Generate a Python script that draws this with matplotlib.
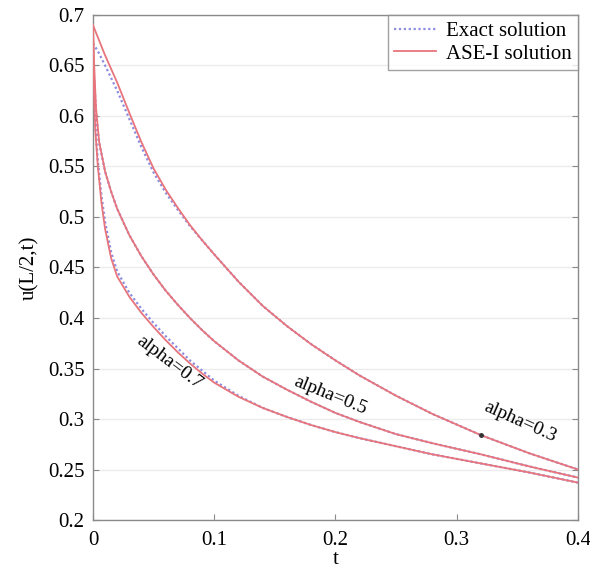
"""
Recreation of the u(L/2,t) decay chart: exact vs ASE-I solution for three alpha values.
"""

import matplotlib
matplotlib.use('Agg')
import matplotlib.pyplot as plt

# ============================================================================
# Data
# ============================================================================

# alpha = 0.3 (upper curve)
T_A03 = [0, 0.005, 0.01, 0.02, 0.03, 0.04, 0.05, 0.06, 0.07, 0.08, 0.09, 0.10,
         0.12, 0.14, 0.16, 0.18, 0.20, 0.22, 0.25, 0.28, 0.32, 0.36, 0.40]
ASE_A03 = [0.690, 0.675, 0.660, 0.633, 0.603, 0.574, 0.548, 0.527, 0.509, 0.492,
           0.477, 0.463, 0.436, 0.412, 0.392, 0.374, 0.358, 0.343, 0.323, 0.305,
           0.284, 0.266, 0.250]
EXACT_A03 = [0.672, 0.662, 0.650, 0.625, 0.597, 0.569, 0.544, 0.524, 0.507, 0.491,
             0.477, 0.463, 0.436, 0.412, 0.392, 0.374, 0.358, 0.343, 0.323, 0.305,
             0.284, 0.266, 0.250]

# alpha = 0.5 (middle curve)
T_A05 = [0, 0.001, 0.0025, 0.005, 0.01, 0.015, 0.02, 0.03, 0.04, 0.05, 0.06,
         0.07, 0.08, 0.09, 0.10, 0.12, 0.14, 0.16, 0.18, 0.20, 0.22, 0.25,
         0.28, 0.32, 0.36, 0.40]
ASE_A05 = [0.690, 0.650, 0.608, 0.575, 0.545, 0.525, 0.508, 0.482, 0.461, 0.443,
           0.427, 0.413, 0.400, 0.388, 0.377, 0.358, 0.342, 0.329, 0.317, 0.306,
           0.297, 0.285, 0.276, 0.265, 0.253, 0.242]
EXACT_A05 = [0.650, 0.635, 0.604, 0.574, 0.545, 0.525, 0.508, 0.482, 0.461, 0.443,
             0.427, 0.413, 0.400, 0.388, 0.377, 0.358, 0.342, 0.329, 0.317, 0.306,
             0.297, 0.285, 0.276, 0.265, 0.253, 0.242]

# alpha = 0.7 (lower curve)
T_A07 = [0, 0.0005, 0.001, 0.002, 0.004, 0.007, 0.01, 0.015, 0.02, 0.03, 0.04,
         0.05, 0.06, 0.07, 0.08, 0.09, 0.10, 0.12, 0.14, 0.16, 0.18, 0.20,
         0.22, 0.25, 0.28, 0.32, 0.36, 0.40]
ASE_A07 = [0.690, 0.640, 0.615, 0.585, 0.550, 0.514, 0.488, 0.459, 0.441, 0.421,
           0.405, 0.391, 0.378, 0.366, 0.355, 0.345, 0.336, 0.322, 0.311, 0.302,
           0.294, 0.287, 0.281, 0.273, 0.265, 0.256, 0.247, 0.237]
EXACT_A07 = [0.650, 0.630, 0.612, 0.588, 0.556, 0.521, 0.495, 0.465, 0.446, 0.425,
             0.409, 0.395, 0.382, 0.370, 0.358, 0.348, 0.338, 0.323, 0.311, 0.302,
             0.294, 0.287, 0.281, 0.273, 0.265, 0.256, 0.247, 0.237]

# Curve labels: text, anchor (t, u), rotation
CURVE_LABELS = ['alpha=0.7', 'alpha=0.5', 'alpha=0.3']
LABEL_T = [0.063, 0.196, 0.352]
LABEL_U = [0.356, 0.323, 0.297]
LABEL_ROT = [-37, -22, -24]

X_TICKS = [0, 0.1, 0.2, 0.3, 0.4]
X_TICKLABELS = ['0', '0.1', '0.2', '0.3', '0.4']
Y_TICKS = [0.2, 0.25, 0.3, 0.35, 0.4, 0.45, 0.5, 0.55, 0.6, 0.65, 0.7]
Y_TICKLABELS = ['0.2', '0.25', '0.3', '0.35', '0.4', '0.45', '0.5',
                '0.55', '0.6', '0.65', '0.7']

# ============================================================================
# Styling
# ============================================================================

RED = '#e8747c'
BLUE = '#8c8ce0'
SPINE = '#8a8a8a'
DOTTED = (0, (1, 1.2))

plt.rcParams['font.family'] = ['Liberation Serif', 'DejaVu Serif']

fig = plt.figure(figsize=(5.9, 5.68), dpi=100, facecolor='white')
ax = fig.add_axes([0.1576, 0.0845, 0.822, 0.8891])

# Exact solution first (dotted), ASE-I on top (solid)
for t, u in [(T_A03, EXACT_A03), (T_A05, EXACT_A05), (T_A07, EXACT_A07)]:
    ax.plot(t, u, color=BLUE, linestyle=DOTTED, linewidth=1.6, zorder=2)
for t, u in [(T_A03, ASE_A03), (T_A05, ASE_A05), (T_A07, ASE_A07)]:
    ax.plot(t, u, color=RED, linestyle='-', linewidth=1.3, zorder=3)

# legend proxies
ax.plot([], [], color=BLUE, linestyle=DOTTED, linewidth=1.6, label='Exact solution')
ax.plot([], [], color=RED, linestyle='-', linewidth=1.3, label='ASE-I solution')

# small artefact dot on the alpha=0.3 curve
ax.plot([0.32], [0.284], marker='o', markersize=2.5, color='#333333', zorder=4)

for text, t, u, rot in zip(CURVE_LABELS, LABEL_T, LABEL_U, LABEL_ROT):
    ax.text(t, u, text, rotation=rot, rotation_mode='anchor',
            ha='center', va='center', fontsize=14, color='black', zorder=5)

ax.set_xlim(0, 0.4)
ax.set_ylim(0.2, 0.7)
ax.set_xticks(X_TICKS)
ax.set_xticklabels(X_TICKLABELS)
ax.set_yticks(Y_TICKS)
ax.set_yticklabels(Y_TICKLABELS)

ax.yaxis.grid(True, color='#ececec', linewidth=1.0)
ax.set_axisbelow(True)

for side in ['left', 'right', 'top', 'bottom']:
    ax.spines[side].set_color(SPINE)
    ax.spines[side].set_linewidth(1.0)

ax.tick_params(direction='in', length=4, width=0.8, color=SPINE,
               labelsize=15, labelcolor='black', top=False, right=True)
ax.tick_params(axis='x', pad=8)
ax.tick_params(axis='y', pad=6)

ax.set_xlabel('t', fontsize=15, labelpad=0)
ax.set_ylabel('u(L/2,t)', fontsize=15, labelpad=6)

leg = ax.legend(loc='upper right', fontsize=15, frameon=True, fancybox=False,
                edgecolor='#8a8a8a', borderpad=0.3, labelspacing=0.15,
                handlelength=2.0, handletextpad=0.5, borderaxespad=0.0)
leg.get_frame().set_linewidth(1.0)

fig.savefig('out.png', dpi=100, facecolor='white')
plt.close(fig)
